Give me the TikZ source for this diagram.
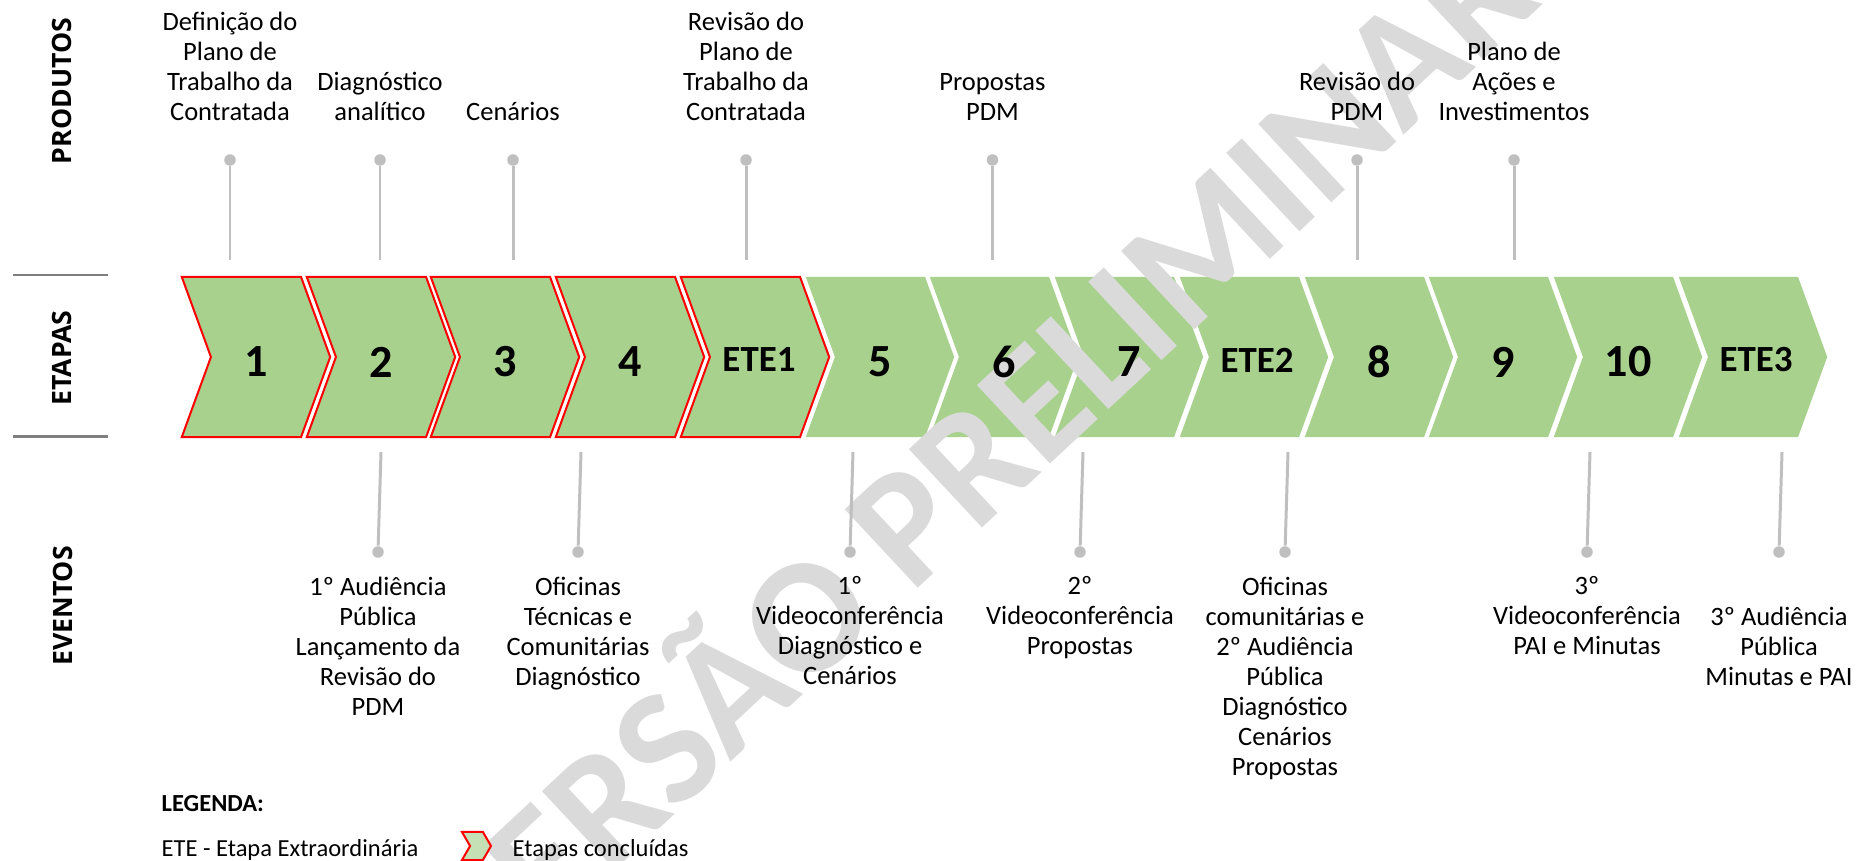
\documentclass[tikz,border=0pt]{standalone}
\usepackage{fontspec}
\setmainfont{Carlito}
\newfontfamily\sidefont{Open Sans}
\usetikzlibrary{shapes.symbols}

\definecolor{verde}{HTML}{A9D18E}
\definecolor{verdeclaro}{HTML}{C5E0B4}
\definecolor{pinogris}{HTML}{BFBFBF}
\definecolor{linhagris}{HTML}{7F7F7F}
\definecolor{marcagris}{HTML}{DADADA}

\begin{document}
\begin{tikzpicture}[x=0.01cm, y=-0.01cm,
	etapa/.style={signal, signal from=west, signal to=east, signal pointer angle=140,
		minimum width=1.483cm, minimum height=1.6cm, inner sep=0pt, fill=verde},
	feita/.style={draw=red, line width=0.57pt},
	num/.style={inner sep=0pt, font=\fontsize{13.1}{13.1}\selectfont\bfseries},
	ete/.style={inner sep=0pt, font=\fontsize{10.5}{10.5}\selectfont\bfseries},
	produto/.style={align=center, anchor=south, inner sep=0pt, font=\fontsize{7.54}{8.54}\selectfont},
	evento/.style={align=center, anchor=north, inner sep=0pt, font=\fontsize{7.54}{8.54}\selectfont},
	pino/.style={circle, fill=pinogris, minimum size=0.115cm, inner sep=0pt},
	haste/.style={draw=pinogris, line width=0.85pt},
	secao/.style={rotate=90, inner sep=0pt, font=\sidefont\fontsize{7.57}{7.57}\selectfont\bfseries},
	legenda/.style={anchor=base west, inner sep=0pt, font=\fontsize{6.97}{6.97}\selectfont}]

	\clip (0,0) rectangle (1857,861);
	\fill[white] (0,0) rectangle (1857,861);

	\draw
	(256, 357) node [etapa, feita] (c1) {}
	(381, 357) node [etapa, feita] (c2) {}
	(505, 357) node [etapa, feita] (c3) {}
	(630, 357) node [etapa, feita] (c4) {}
	(755, 357) node [etapa, feita] (c5) {}
	(880, 357) node [etapa] (c6) {}
	(1004, 357) node [etapa] (c7) {}
	(1129, 357) node [etapa] (c8) {}
	(1254, 357) node [etapa] (c9) {}
	(1379, 357) node [etapa] (c10) {}
	(1503, 357) node [etapa] (c11) {}
	(1628, 357) node [etapa] (c12) {}
	(1753, 357) node [etapa] (c13) {};

	\node[rotate=43, inner sep=0pt, text=marcagris, text height=30.3pt, text depth=0pt,
		font=\fontsize{47}{47}\selectfont\bfseries] (marca) at (975, 462) {VERSÃO PRELIMINAR};

	\draw
	(256, 362) node [num] (n1) {1}
	(381, 362) node [num] (n2) {2}
	(505, 362) node [num] (n3) {3}
	(630, 362) node [num] (n4) {4}
	(759, 360) node [ete] (e1) {ETE1}
	(880, 362) node [num] (n5) {5}
	(1004, 362) node [num] (n6) {6}
	(1129, 362) node [num] (n7) {7}
	(1257, 360) node [ete] (e2) {ETE2}
	(1379, 362) node [num] (n8) {8}
	(1503, 362) node [num] (n9) {9}
	(1628, 362) node [num] (n10) {10}
	(1756, 360) node [ete] (e3) {ETE3};

	\draw
	(62, 91) node [secao] (produtos) {PRODUTOS}
	(62, 358) node [secao] (etapas) {ETAPAS}
	(62.5, 606) node [secao] (eventos) {EVENTOS};
	\draw[linhagris, line width=0.77pt] (12.7, 275) -- (108, 275);
	\draw[linhagris, line width=0.77pt] (12.7, 436.7) -- (108, 436.7);

	\draw
	(230, 121.5) node [produto] (p1) {Definição do\\Plano de\\Trabalho da\\Contratada}
	(380, 121.5) node [produto] (p2) {Diagnóstico\\analítico}
	(513, 121.5) node [produto] (p3) {Cenários}
	(746, 121.5) node [produto] (p4) {Revisão do\\Plano de\\Trabalho da\\Contratada}
	(992.5, 121.5) node [produto] (p5) {Propostas\\PDM}
	(1357, 121.5) node [produto] (p6) {Revisão do\\PDM}
	(1514, 121.5) node [produto] (p7) {Plano de\\Ações e\\Investimentos};

	\draw
	(230, 160) node [pino] (pd1) {}
	(380, 160) node [pino] (pd2) {}
	(513, 160) node [pino] (pd3) {}
	(746, 160) node [pino] (pd4) {}
	(992.5, 160) node [pino] (pd5) {}
	(1357, 160) node [pino] (pd6) {}
	(1514, 160) node [pino] (pd7) {};
	\coordinate (pf1) at (230, 260.5);
	\coordinate (pf2) at (380, 260.5);
	\coordinate (pf3) at (513, 260.5);
	\coordinate (pf4) at (746, 260.5);
	\coordinate (pf5) at (992.5, 260.5);
	\coordinate (pf6) at (1357, 260.5);
	\coordinate (pf7) at (1514, 260.5);
	\draw[haste] (pd1) -- (pf1);
	\draw[haste] (pd2) -- (pf2);
	\draw[haste] (pd3) -- (pf3);
	\draw[haste] (pd4) -- (pf4);
	\draw[haste] (pd5) -- (pf5);
	\draw[haste] (pd6) -- (pf6);
	\draw[haste] (pd7) -- (pf7);

	\draw
	(378, 576) node [evento] (v1) {1º Audiência\\Pública\\Lançamento da\\Revisão do\\PDM}
	(578, 576) node [evento] (v2) {Oficinas\\Técnicas e\\Comunitárias\\Diagnóstico}
	(850, 576) node [evento] (v3) {1º\\Videoconferência\\Diagnóstico e\\Cenários}
	(1080, 576) node [evento] (v4) {2º\\Videoconferência\\Propostas}
	(1285, 576) node [evento] (v5) {Oficinas\\comunitárias e\\2º Audiência\\Pública\\Diagnóstico\\Cenários\\Propostas}
	(1587, 576) node [evento] (v6) {3º\\Videoconferência\\PAI e Minutas}
	(1779, 606) node [evento] (v7) {3º Audiência\\Pública\\Minutas e PAI};

	\draw
	(378, 552) node [pino] (vd1) {}
	(578, 552) node [pino] (vd2) {}
	(850, 552) node [pino] (vd3) {}
	(1080, 552) node [pino] (vd4) {}
	(1285, 552) node [pino] (vd5) {}
	(1587, 552) node [pino] (vd6) {}
	(1779, 552) node [pino] (vd7) {};
	\coordinate (vf1) at (381, 452);
	\coordinate (vf2) at (581, 452);
	\coordinate (vf3) at (853, 452);
	\coordinate (vf4) at (1083, 452);
	\coordinate (vf5) at (1288, 452);
	\coordinate (vf6) at (1590, 452);
	\coordinate (vf7) at (1782, 452);
	\draw[haste] (vf1) -- (vd1);
	\draw[haste] (vf2) -- (vd2);
	\draw[haste] (vf3) -- (vd3);
	\draw[haste] (vf4) -- (vd4);
	\draw[haste] (vf5) -- (vd5);
	\draw[haste] (vf6) -- (vd6);
	\draw[haste] (vf7) -- (vd7);

	\draw
	(161, 811) node [legenda, font=\fontsize{6.97}{6.97}\selectfont\bfseries] (leg) {LEGENDA:}
	(161, 856) node [legenda] (legete) {ETE - Etapa Extraordinária}
	(476.5, 846) node [signal, signal from=west, signal to=east, signal pointer angle=120,
		minimum width=0.29cm, minimum height=0.28cm, inner sep=0pt,
		fill=verdeclaro, feita] (icone) {}
	(512, 856) node [legenda] (legfeita) {Etapas concluídas};
\end{tikzpicture}
\end{document}
